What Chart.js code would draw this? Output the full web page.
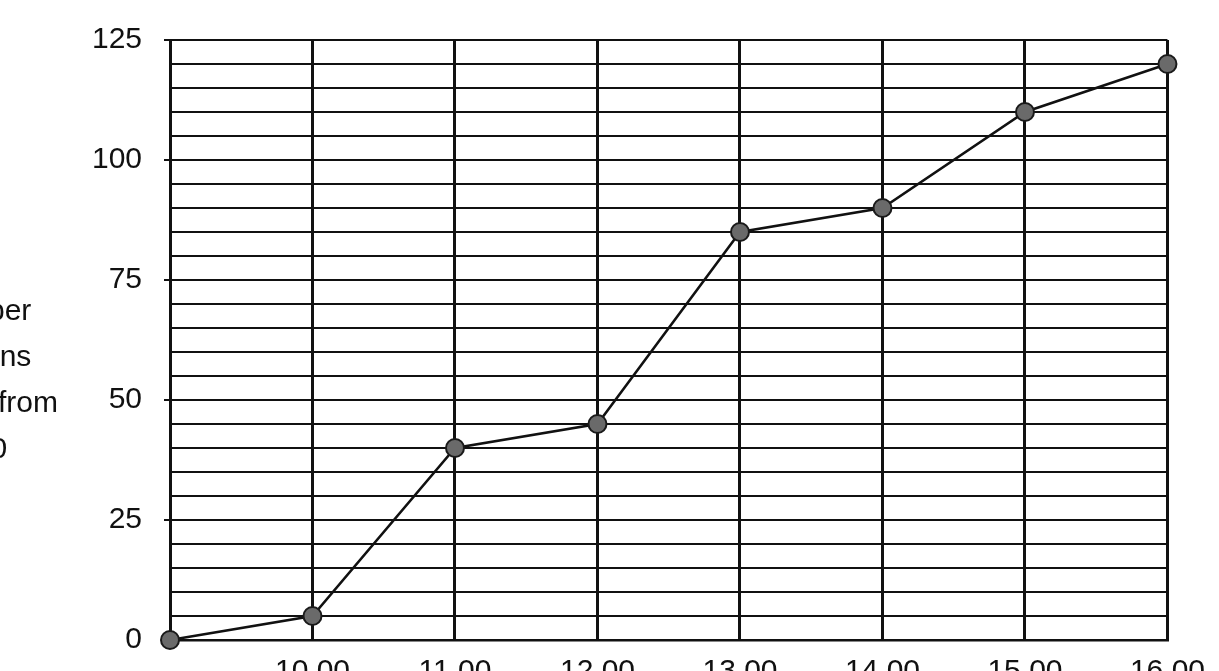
<!DOCTYPE html>
<html>
<head>
<meta charset="utf-8">
<script src="https://cdn.jsdelivr.net/npm/chart.js@4.4.1/dist/chart.umd.min.js"></script>
<style>
  html, body { margin: 0; padding: 0; background: #fff; overflow: hidden; }
  #box { position: relative; width: 1219px; height: 671px; overflow: hidden; }
  #wrap { position: absolute; left: 0; top: 0; width: 1219px; height: 700px; }
  #tituloY {
    position: absolute; left: -142px; top: 287px; width: 240px;
    text-align: center;
    font-family: "Liberation Sans", Arial, sans-serif; font-size: 30px;
    line-height: 46px; color: #111; white-space: nowrap;
  }
</style>
</head>
<body>
<div id="box">
  <div id="wrap"><canvas id="grafico"></canvas></div>
  <div id="tituloY">Number<br>persons<br>arrived from<br>9.00</div>
</div>
<script>
const grafico = document.getElementById('grafico'); // canvas do html

// horários (eixo x)
const horas = ['9.00', '10.00', '11.00', '12.00', '13.00', '14.00', '15.00', '16.00'];

// valores acumulados
const chegadas = [0, 5, 40, 45, 85, 90, 110, 120];

// marcas do eixo y que levam texto
const marcasY = [0, 25, 50, 75, 100, 125];

var fonte = {
  family: '"Liberation Sans", Arial, sans-serif',
  size: 30
};

var options = {
  responsive: true,
  maintainAspectRatio: false,
  animation: false,
  layout: {
    padding: { left: 0, top: 33, right: 1219 - 1168, bottom: 0 }
  },
  scales: {
    x: {
      type: 'category',
      offset: false,
      grid: {
        color: '#111',
        lineWidth: 3,
        drawTicks: false
      },
      border: { display: true, color: '#111', width: 2.5 },
      ticks: {
        color: '#111',
        font: fonte,
        padding: 14,
        maxRotation: 0,
        autoSkip: false,
        // o primeiro horário não aparece na figura
        callback: function (valor, i) { return i === 0 ? '' : horas[i]; }
      },
      afterFit: function (escala) { escala.height = 700 - 640; }
    },
    y: {
      min: 0,
      max: 125,
      grid: {
        color: '#111',
        lineWidth: 2,
        tickLength: 6,
        tickColor: function (ctx) {
          return ctx.tick && marcasY.includes(ctx.tick.value) ? '#111' : 'rgba(0,0,0,0)';
        }
      },
      border: { display: true, color: '#111', width: 3 },
      ticks: {
        stepSize: 5,
        autoSkip: false,
        color: '#111',
        font: fonte,
        padding: 22,
        callback: function (valor) { return marcasY.includes(valor) ? valor : ''; }
      },
      afterFit: function (escala) { escala.width = 170; }
    }
  },
  plugins: {
    legend: { display: false },
    tooltip: { enabled: false },
    title: { display: false }
  }
};

var definindoGrafico = {
  type: 'line',
  data: {
    labels: horas,
    datasets: [{
      label: 'chegadas',
      data: chegadas,
      borderColor: '#111',
      borderWidth: 2.5,
      tension: 0,
      pointRadius: 9,
      pointBackgroundColor: '#6a6a6a',
      pointBorderColor: '#1a1a1a',
      pointBorderWidth: 2,
      clip: false
    }]
  },
  options: options
};

// criando de fato o gráfico
const graficoChegadas = new Chart(grafico, definindoGrafico);
</script>
</body>
</html>
